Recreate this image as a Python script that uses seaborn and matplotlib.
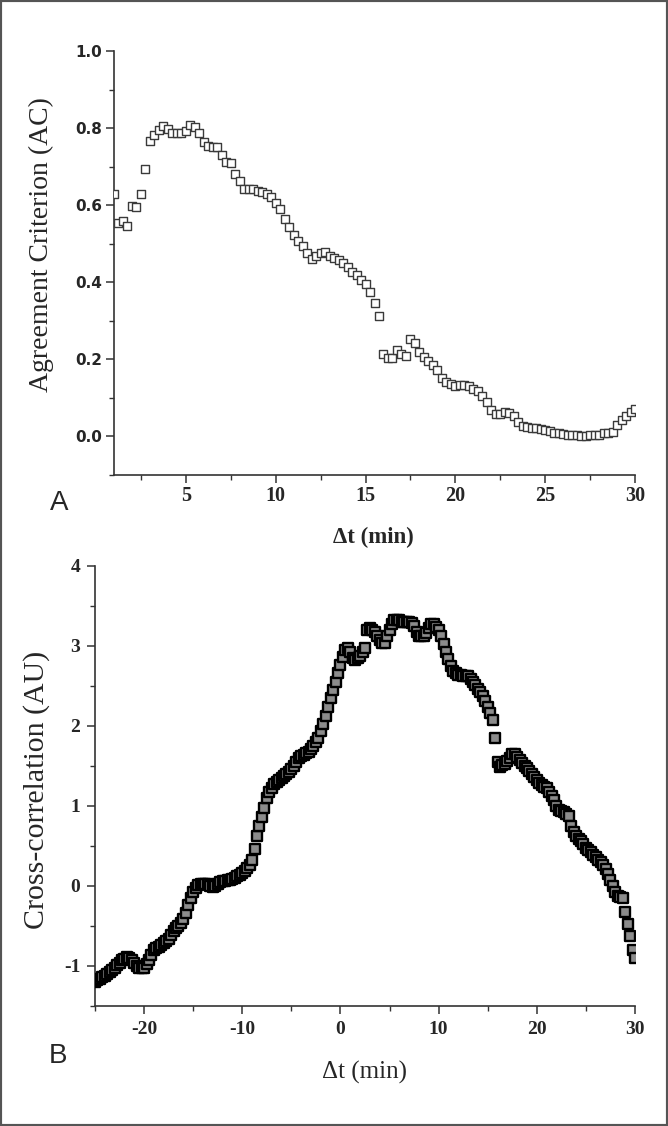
import numpy as np
import matplotlib
matplotlib.use("Agg")
import matplotlib.pyplot as plt
import seaborn as sns
from matplotlib.ticker import MultipleLocator
from matplotlib.patches import Rectangle

# Panel A: agreement criterion, sampled every 0.25 min starting at 1 min
a_start, a_step = 1.0, 0.25
ac_values = [
    0.630, 0.553, 0.558, 0.545,
    0.598, 0.594, 0.630, 0.693,
    0.767, 0.782, 0.795, 0.805,
    0.797, 0.786, 0.786, 0.786,
    0.793, 0.808, 0.802, 0.788,
    0.765, 0.753, 0.752, 0.752,
    0.730, 0.711, 0.709, 0.682,
    0.663, 0.642, 0.641, 0.641,
    0.637, 0.633, 0.629, 0.620,
    0.606, 0.591, 0.563, 0.544,
    0.522, 0.507, 0.494, 0.475,
    0.461, 0.468, 0.477, 0.478,
    0.468, 0.464, 0.457, 0.449,
    0.440, 0.427, 0.418, 0.407,
    0.395, 0.375, 0.346, 0.312,
    0.215, 0.204, 0.204, 0.223,
    0.215, 0.210, 0.252, 0.242,
    0.219, 0.206, 0.196, 0.185,
    0.173, 0.152, 0.141, 0.135,
    0.130, 0.133, 0.133, 0.130,
    0.124, 0.119, 0.106, 0.089,
    0.068, 0.059, 0.057, 0.063,
    0.061, 0.053, 0.037, 0.026,
    0.024, 0.023, 0.022, 0.019,
    0.016, 0.013, 0.010, 0.008,
    0.006, 0.005, 0.003, 0.003,
    0.002, 0.001, 0.003, 0.005,
    0.005, 0.008, 0.008, 0.011,
    0.029, 0.042, 0.053, 0.063,
    0.072,
]

# Panel B: cross-correlation, sampled every 0.25 min starting at -25 min
b_start, b_step = -25.0, 0.25
cc_values = [
    -1.20, -1.18, -1.16, -1.14,
    -1.12, -1.10, -1.07, -1.05,
    -1.02, -0.99, -0.96, -0.93,
    -0.91, -0.89, -0.90, -0.92,
    -0.96, -1.00, -1.02, -1.03,
    -1.03, -0.98, -0.92, -0.86,
    -0.80, -0.78, -0.76, -0.74,
    -0.71, -0.69, -0.66, -0.61,
    -0.56, -0.53, -0.50, -0.46,
    -0.41, -0.34, -0.24, -0.15,
    -0.07, -0.02, 0.01, 0.03,
    0.03, 0.03, 0.02, 0.00,
    -0.01, 0.00, 0.03, 0.05,
    0.06, 0.065, 0.07, 0.08,
    0.09, 0.10, 0.12, 0.14,
    0.16, 0.19, 0.22, 0.26,
    0.32, 0.46, 0.62, 0.75,
    0.86, 0.97, 1.10, 1.17,
    1.22, 1.27, 1.30, 1.32,
    1.35, 1.37, 1.40, 1.43,
    1.46, 1.50, 1.55, 1.60,
    1.62, 1.64, 1.66, 1.68,
    1.71, 1.75, 1.80, 1.85,
    1.94, 2.03, 2.13, 2.24,
    2.35, 2.45, 2.55, 2.66,
    2.76, 2.86, 2.95, 2.98,
    2.92, 2.85, 2.83, 2.85,
    2.88, 2.92, 2.98, 3.20,
    3.22, 3.20, 3.18, 3.13,
    3.08, 3.04, 3.04, 3.12,
    3.20, 3.28, 3.32, 3.33,
    3.32, 3.30, 3.30, 3.30,
    3.30, 3.29, 3.25, 3.18,
    3.13, 3.12, 3.13, 3.16,
    3.23, 3.28, 3.27, 3.24,
    3.20, 3.12, 3.03, 2.93,
    2.84, 2.75, 2.69, 2.66,
    2.64, 2.64, 2.63, 2.63,
    2.62, 2.59, 2.55, 2.51,
    2.46, 2.42, 2.37, 2.31,
    2.24, 2.16, 2.07, 1.85,
    1.55, 1.49, 1.51, 1.53,
    1.56, 1.60, 1.65, 1.65,
    1.61, 1.58, 1.54, 1.50,
    1.47, 1.44, 1.40, 1.36,
    1.32, 1.29, 1.26, 1.24,
    1.22, 1.17, 1.12, 1.07,
    1.00, 0.95, 0.94, 0.92,
    0.90, 0.88, 0.75, 0.67,
    0.62, 0.59, 0.56, 0.52,
    0.48, 0.45, 0.42, 0.39,
    0.36, 0.33, 0.30, 0.26,
    0.21, 0.15, 0.08, 0.00,
    -0.07, -0.12, -0.14, -0.15,
    -0.32, -0.47, -0.62, -0.80,
    -0.90,
]

dt_a = a_start + a_step * np.arange(len(ac_values))
dt_b = b_start + b_step * np.arange(len(cc_values))

sns.set_style("ticks")
plt.rcParams["axes.unicode_minus"] = False
plt.rcParams["font.family"] = ["Liberation Serif", "DejaVu Serif"]

W, H = 668, 1126
fig = plt.figure(figsize=(W / 100, H / 100), dpi=100)

def px_axes(left, top, right, bottom):
    return fig.add_axes([left / W, 1 - bottom / H, (right - left) / W, (bottom - top) / H])

axA = px_axes(114, 51, 635, 475)
axB = px_axes(95, 566, 635, 1006)

sns.scatterplot(x=dt_a, y=ac_values, ax=axA, marker="s", s=30,
                facecolor="white", edgecolor="#3a3a3a", linewidth=1.0, zorder=3)
# dense overlapping squares give the thick dark band of panel B
sns.scatterplot(x=dt_b, y=cc_values, ax=axB, marker="s", s=44,
                facecolor="#8c8c8c", edgecolor="#000000", linewidth=1.7, zorder=3)

axA.set_xlim(1, 30)
axA.set_ylim(-0.1, 1.0)
axA.xaxis.set_major_locator(MultipleLocator(5))
axA.xaxis.set_minor_locator(MultipleLocator(2.5))
axA.set_yticks([0.0, 0.2, 0.4, 0.6, 0.8, 1.0])
axA.yaxis.set_minor_locator(MultipleLocator(0.1))

axB.set_xlim(-25, 30)
axB.set_ylim(-1.5, 4)
axB.xaxis.set_major_locator(MultipleLocator(10))
axB.xaxis.set_minor_locator(MultipleLocator(5))
axB.yaxis.set_major_locator(MultipleLocator(1))
axB.yaxis.set_minor_locator(MultipleLocator(0.5))

for ax in (axA, axB):
    sns.despine(ax=ax)
    for side in ("left", "bottom"):
        ax.spines[side].set_linewidth(1.2)
        ax.spines[side].set_color("#333333")
    ax.tick_params(which="major", direction="out", length=5.5, width=1.1, color="#333333")
    ax.tick_params(which="minor", direction="out", length=3.5, width=1.0, color="#333333")
    ax.set_xlabel("")
    ax.set_ylabel("")

axA.set_yticklabels(["0.0", "0.2", "0.4", "0.6", "0.8", "1.0"],
                    fontfamily="DejaVu Sans", fontweight="bold", fontsize=11)
axA.tick_params(axis="y", pad=3)
for lab in axA.get_xticklabels():
    lab.set_fontweight("bold")
    lab.set_fontsize(14.5)
axA.tick_params(axis="x", pad=2.5)

for lab in axB.get_xticklabels() + axB.get_yticklabels():
    lab.set_fontweight("bold")
    lab.set_fontsize(14)
axB.tick_params(axis="y", pad=5)
axB.tick_params(axis="x", pad=5)

def ftext(x, y, s, **kw):
    fig.text(x / W, 1 - y / H, s, ha="center", va="center", **kw)

ftext(41, 245, "Agreement Criterion (AC)", rotation=90, fontsize=20)
ftext(373, 537, "\u0394t (min)", fontsize=16.5, fontweight="bold")
ftext(59, 503, "A", fontsize=20, fontfamily="Liberation Sans")

ftext(37, 790, "Cross-correlation (AU)", rotation=90, fontsize=21.5)
ftext(365, 1072, "\u0394t (min)", fontsize=18)
ftext(58, 1056, "B", fontsize=20, fontfamily="Liberation Sans")

fig.patches.append(Rectangle((0, 0), 1, 1, transform=fig.transFigure, fill=False,
                             edgecolor="#555555", linewidth=3))

fig.savefig("out.png", dpi=100)
